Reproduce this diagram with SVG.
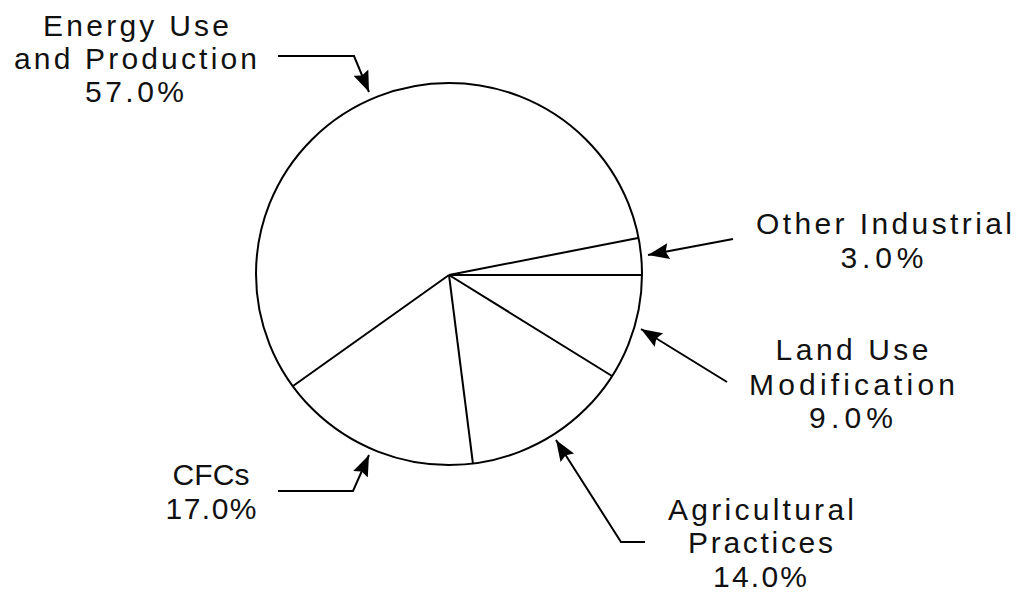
<svg xmlns="http://www.w3.org/2000/svg" width="1019" height="598" viewBox="0 0 1019 598">
  <style>
    .pie { fill: #ffffff; stroke: #000000; stroke-width: 2; }
    .edge { fill: none; stroke: #000000; stroke-width: 2; }
    .conn { fill: none; stroke: #000000; stroke-width: 2; stroke-linejoin: miter; marker-end: url(#arrow); }
    .lbl { font-family: "Liberation Sans", Arial, sans-serif; font-size: 30px; fill: #111111; text-anchor: middle; }
  </style>
  <defs>
    <marker id="arrow" markerUnits="userSpaceOnUse" markerWidth="24" markerHeight="18" refX="21" refY="8" orient="auto">
      <path d="M0,0 L21,8 L0,16 L3,8 z" fill="#000000"/>
    </marker>
  </defs>
  <rect width="1019" height="598" fill="#ffffff"/>

  <g id="pie">
    <ellipse class="pie" cx="449" cy="274" rx="193" ry="191"/>
    <line class="edge" x1="449" y1="275" x2="642" y2="275"/>
    <line class="edge" x1="449" y1="275" x2="638" y2="238"/>
    <line class="edge" x1="449" y1="275" x2="612" y2="376"/>
    <line class="edge" x1="449" y1="275" x2="473" y2="464"/>
    <line class="edge" x1="449" y1="275" x2="293" y2="386"/>
  </g>

  <g id="connectors">
    <polyline class="conn" points="278,56 354,56 369,92"/>
    <polyline class="conn" points="733,239 648,255"/>
    <polyline class="conn" points="727,382 641,329"/>
    <polyline class="conn" points="645,542 621,542 556,440"/>
    <polyline class="conn" points="278,491 353,491 369,455"/>
  </g>

  <g id="energy">
    <text class="lbl" x="136" y="36" textLength="186">Energy Use</text>
    <text class="lbl" x="135.5" y="69" textLength="243">and Production</text>
    <text class="lbl" x="134.5" y="102" textLength="99">57.0%</text>
  </g>

  <g id="other-industrial">
    <text class="lbl" x="884" y="234" textLength="256">Other Industrial</text>
    <text class="lbl" x="882" y="268" textLength="83">3.0%</text>
  </g>

  <g id="land-use">
    <text class="lbl" x="852" y="360" textLength="153">Land Use</text>
    <text class="lbl" x="852" y="395" textLength="206">Modification</text>
    <text class="lbl" x="851" y="428" textLength="84">9.0%</text>
  </g>

  <g id="agricultural">
    <text class="lbl" x="761" y="520" textLength="186">Agricultural</text>
    <text class="lbl" x="760.5" y="553" textLength="145">Practices</text>
    <text class="lbl" x="760" y="587" textLength="94">14.0%</text>
  </g>

  <g id="cfcs">
    <text class="lbl" x="211" y="485" textLength="77">CFCs</text>
    <text class="lbl" x="211" y="519" textLength="91">17.0%</text>
  </g>
</svg>
